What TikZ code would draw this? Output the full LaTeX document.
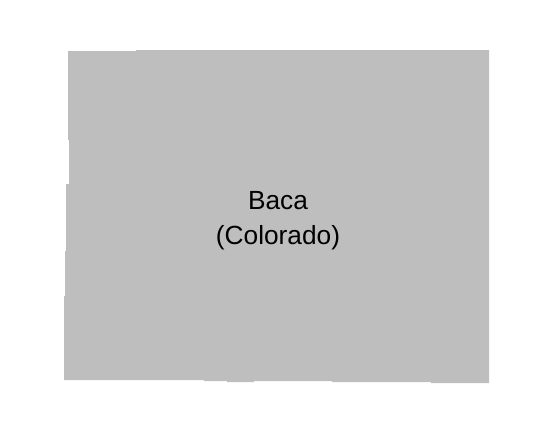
\documentclass[tikz,border=0pt]{standalone}
\usepackage{fontspec}
\setmainfont{Liberation Sans}
\usepackage{tikz}
\definecolor{countygray}{RGB}{190,190,190}
\tikzset{
  county/.style={fill=countygray,draw=none},
  countylabel/.style={align=center,inner sep=0pt,font=\fontsize{19.7}{26.2}\selectfont}
}
\begin{document}
\begin{tikzpicture}[x=0.75pt,y=-0.75pt]
  \useasboundingbox (0,0) rectangle (553,433);
  % County outline, clockwise from the upper left corner
  \fill[county] (68,51) -- (136,51) -- (136,50) -- (489,50) -- (489,383)
    -- (431,383) -- (431,382) -- (332,382) -- (332,381) -- (254,381)
    -- (254,382) -- (227,382) -- (227,381) -- (204,381) -- (204,380)
    -- (64,380) -- (64,296) -- (65,296) -- (65,251) -- (66,251)
    -- (66,184) -- (69,184) -- (69,140) -- (68,140) -- cycle;
  \node[countylabel] (baca) at (278,220.5) {Baca\\(Colorado)};
\end{tikzpicture}
\end{document}
